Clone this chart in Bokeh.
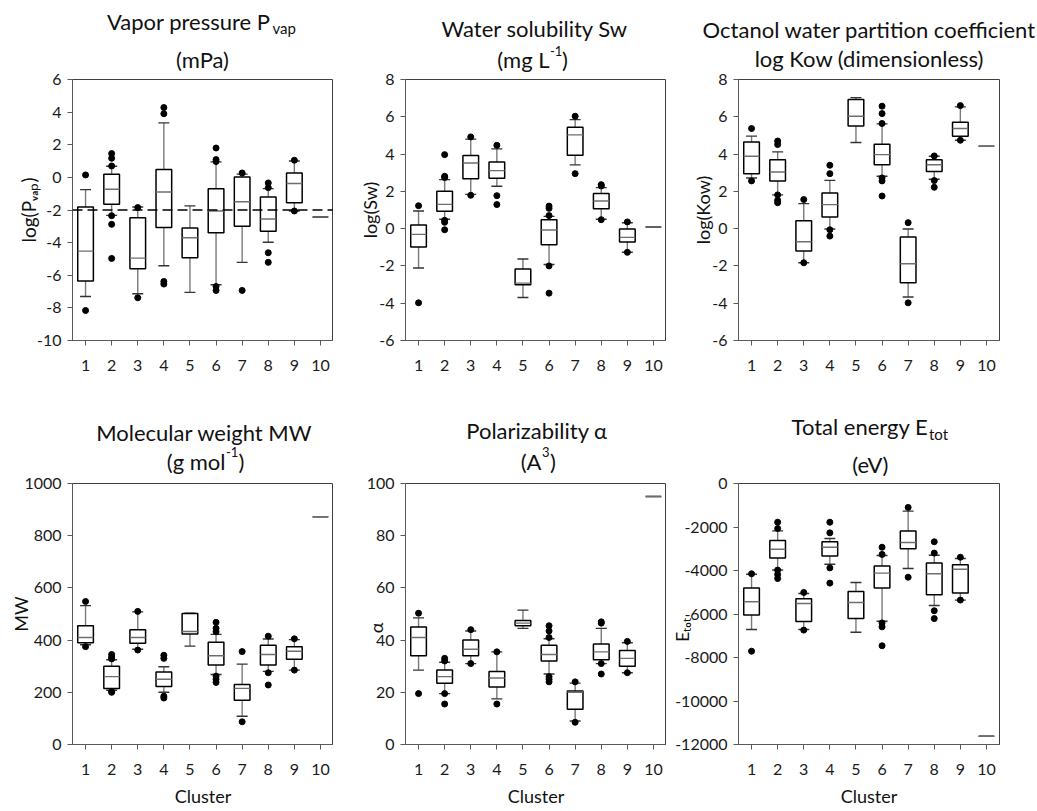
from bokeh.plotting import figure
from bokeh.layouts import column, row
from bokeh.models import Range1d, FixedTicker, Label, Span
from bokeh.embed import file_html
from bokeh.resources import INLINE

clusters = [1, 2, 3, 4, 5, 6, 7, 8, 9, 10]

# ---- Vapor pressure log(Pvap) ----
pvap_q3 = [-1.82, 0.19, -2.47, 0.48, -3.1, -0.69, 0.03, -1.2, 0.27, -2.43]
pvap_med = [-4.52, -0.73, -4.95, -0.9, -3.7, -2.06, -1.49, -2.55, -0.38, -2.43]
pvap_q1 = [-6.36, -1.65, -5.6, -3.08, -4.93, -3.39, -3.0, -3.31, -1.55, -2.43]
pvap_whi = [-0.75, 0.68, -1.82, 3.34, -1.75, 0.95, 0.2, -0.69, 1.0, None]
pvap_wlo = [-7.3, -2.33, -7.13, -5.42, -7.05, -6.58, -5.21, -3.98, -2.06, None]
pvap_out = [[0.15, -8.16], [1.46, 1.17, 0.7, -2.35, -2.88, -4.97], [-1.85, -7.38],
            [4.28, 3.9, -6.38, -6.54], [], [1.8, 1.09, 0.97, -6.69, -6.93],
            [0.27, -6.93], [-0.34, -0.63, -4.62, -5.21], [1.05, -2.06], []]
pvap_ref = -2

# ---- Water solubility log(Sw) ----
sw_q3 = [0.2, 2.0, 3.92, 3.58, -2.17, 0.48, 5.44, 1.88, -0.02, 0.09]
sw_med = [-0.31, 1.3, 3.52, 3.11, -2.92, -0.07, 5.03, 1.48, -0.47, 0.09]
sw_q1 = [-0.99, 0.93, 2.68, 2.7, -3.01, -0.86, 3.94, 1.07, -0.72, 0.09]
sw_whi = [0.95, 2.63, 4.8, 4.28, -1.63, 0.66, 5.85, 2.2, 0.32, None]
sw_wlo = [-2.11, 0.5, 1.84, 2.27, -3.69, -1.92, 3.42, 0.5, -1.27, None]
sw_out = [[1.23, -3.98], [3.97, 2.81, 2.74, 0.45, 0.34, -0.06], [4.92, 1.79],
          [4.47, 1.77, 1.29], [], [1.21, 1.09, 0.7, -2.0, -3.46], [6.03, 2.95],
          [2.36, 2.29, 0.48], [0.36, -1.27], []]

# ---- log Kow ----
kow_q3 = [4.65, 3.7, 0.43, 1.91, 6.93, 4.53, -0.45, 3.7, 5.71, 4.42]
kow_med = [3.88, 3.04, -0.7, 1.29, 6.03, 3.97, -1.88, 3.43, 5.37, 4.42]
kow_q1 = [2.95, 2.56, -1.2, 0.62, 5.5, 3.43, -2.9, 3.06, 4.96, 4.42]
kow_whi = [4.96, 4.12, 1.34, 2.59, 7.03, 5.62, -0.02, 3.88, 6.53, None]
kow_wlo = [2.72, 1.81, -1.83, -0.02, 4.62, 2.81, -3.67, 2.65, 4.74, None]
kow_out = [[5.37, 2.56], [4.7, 4.51, 1.81, 1.52, 1.39], [1.56, -1.83],
           [3.4, 2.95, -0.06, -0.4], [], [6.57, 6.17, 5.64, 2.72, 2.56, 1.75],
           [0.32, -3.98], [3.9, 2.58, 2.22], [6.6, 4.74], []]

# ---- Molecular weight MW ----
mw_q3 = [455, 300, 440, 278, 502, 392, 230, 380, 375, 873]
mw_med = [410, 260, 410, 250, 433, 340, 215, 345, 357, 873]
mw_q1 = [390, 215, 388, 222, 423, 305, 170, 305, 327, 873]
mw_whi = [532, 325, 508, 298, 503, 422, 308, 404, 402, None]
mw_wlo = [382, 208, 365, 200, 377, 268, 108, 280, 285, None]
mw_out = [[548, 375], [345, 335, 328, 203, 200], [510, 362], [342, 330, 185, 178], [],
          [468, 445, 432, 262, 250, 238], [356, 87], [415, 275, 228], [405, 285], []]

# ---- Polarizability alpha ----
al_q3 = [45, 28.5, 40, 28, 47.5, 38, 20.5, 38.5, 36, 95]
al_med = [41, 26, 36.5, 25.5, 46.5, 34.5, 20, 35.5, 33, 95]
al_q1 = [34, 23.5, 34, 22, 45.5, 32, 13.5, 32.5, 30, 95]
al_whi = [48.5, 31.5, 43.5, 35.5, 51.5, 40.5, 23.5, 44.5, 39, None]
al_wlo = [28.5, 19.5, 31, 17.5, 44.5, 27, 9, 31, 27.5, None]
al_out = [[50.3, 19.5], [33, 32, 19.5, 15.5], [44, 31], [35.5, 15.5], [],
          [45.5, 43.5, 41, 26, 25, 24], [24, 8.5], [47, 46.5, 31, 27], [39.5, 27.5], []]

# ---- Total energy Etot ----
et_q3 = [-4800, -2620, -5300, -2680, -4970, -3790, -2180, -3660, -3740, -11620]
et_med = [-5440, -3020, -5520, -2930, -5470, -4120, -2710, -4150, -3940, -11620]
et_q1 = [-6050, -3430, -6340, -3330, -6210, -4800, -3000, -5120, -5030, -11620]
et_whi = [-4170, -2180, -5060, -2530, -4550, -3310, -1270, -3300, -3450, None]
et_wlo = [-6710, -3980, -6710, -3710, -6840, -6330, -3910, -5610, -5360, None]
et_out = [[-4150, -7710], [-1780, -2070, -3980, -4180, -4370], [-5010, -6740],
          [-1780, -2270, -3880, -4580], [], [-2930, -3260, -6410, -6590, -7460],
          [-1100, -4310], [-2680, -3200, -5850, -6210], [-3390, -5360], []]

FONT = "Lato"
BOX_W = 0.6
CAP_W = 0.42
COL_W = [333, 333, 371]
TS = 22   # title font size
SS = 15   # subscript size
PS = 13   # superscript size
NB = "\u00a0"


def lab(p, x, y, text, size=TS, align="left", baseline="alphabetic"):
    p.add_layout(Label(x=x, y=y, x_units="screen", y_units="screen", text=text,
                       text_font=FONT, text_font_size=f"{size}px", text_color="#111111",
                       text_align=align, text_baseline=baseline))


def title_fig(width):
    t = figure(frame_width=width, frame_height=72, x_range=Range1d(0, 1), y_range=Range1d(0, 1),
               output_backend="svg", toolbar_location=None,
               x_axis_location=None, y_axis_location=None,
               min_border_left=0, min_border_right=0, min_border_top=0, min_border_bottom=0)
    t.xgrid.visible = False
    t.ygrid.visible = False
    t.outline_line_color = None
    return t


def panel(yr, ystep, q1, med, q3, wlo, whi, out, bottom_border, right_border,
          ylabel, ylabel_size, ylabel_standoff, xlabel=None):
    p = figure(frame_width=261, frame_height=261,
               x_range=Range1d(0.5, 10.5), y_range=Range1d(*yr),
               output_backend="svg", toolbar_location=None,
               min_border_left=72, min_border_right=right_border,
               min_border_top=7, min_border_bottom=bottom_border)
    p.xgrid.visible = False
    p.ygrid.visible = False
    p.outline_line_color = "#404040"
    p.outline_line_width = 1
    for ax in (p.xaxis[0], p.yaxis[0]):
        ax.axis_line_color = "#595959"
        ax.major_tick_line_color = "#595959"
        ax.major_tick_out = 5
        ax.major_tick_in = 0
        ax.minor_tick_line_color = None
        ax.major_label_text_font = FONT
        ax.major_label_text_font_size = "16px"
        ax.major_label_text_color = "#1a1a1a"
        ax.axis_label_text_font = FONT
        ax.axis_label_text_font_style = "normal"
        ax.axis_label_text_color = "#111111"
    p.xaxis.ticker = FixedTicker(ticks=clusters)
    p.xaxis.major_label_standoff = 14
    yt = list(range(yr[0], yr[1] + 1, ystep))
    p.yaxis.ticker = FixedTicker(ticks=yt)
    p.yaxis.major_label_overrides = {t: str(t) for t in yt}
    p.yaxis.major_label_standoff = 6
    p.yaxis.axis_label = ylabel
    p.yaxis.axis_label_text_font_size = f"{ylabel_size}px"
    p.yaxis.axis_label_standoff = ylabel_standoff
    if xlabel:
        p.xaxis.axis_label = xlabel
        p.xaxis.axis_label_text_font_size = "18px"
        p.xaxis.axis_label_standoff = 7

    # whiskers
    wx, wy0, wy1, cx0, cx1, cy = [], [], [], [], [], []
    for c, lo, a, b, hi in zip(clusters, wlo, q1, q3, whi):
        if lo is None:
            continue
        wx += [c, c]
        wy0 += [b, a]
        wy1 += [hi, lo]
        cx0 += [c - CAP_W / 2] * 2
        cx1 += [c + CAP_W / 2] * 2
        cy += [hi, lo]
    p.segment(x0=wx, y0=wy0, x1=wx, y1=wy1, line_color="#7a7a7a", line_width=1.4)
    p.segment(x0=cx0, y0=cy, x1=cx1, y1=cy, line_color="#333333", line_width=1.4)
    # boxes
    p.vbar(x=clusters, width=BOX_W, bottom=q1, top=q3, fill_color="white",
           line_color="black", line_width=1.5)
    # medians
    p.segment(x0=[c - BOX_W / 2 for c in clusters], y0=med,
              x1=[c + BOX_W / 2 for c in clusters], y1=med,
              line_color="#6e6e6e", line_width=1.4)
    # outliers
    ox, oy = [], []
    for c, vals in zip(clusters, out):
        ox += [c] * len(vals)
        oy += vals
    p.scatter(x=ox, y=oy, size=6, color="black")
    return p


# ---------- top row ----------
p1 = panel((-10, 6), 2, pvap_q1, pvap_med, pvap_q3, pvap_wlo, pvap_whi, pvap_out, 64, 0,
           "log(Pᵥₐₚ)", 19, -6)
p1.add_layout(Span(location=pvap_ref, dimension="width", line_color="black",
                   line_dash="10 5", line_width=1.3))
t1 = title_fig(COL_W[0])
lab(t1, 270, 51.2, "Vapor pressure P", align="right")
lab(t1, 272, 44.5, "vap", size=SS)
lab(t1, 202, 12.8, "(mPa)", align="center")

p2 = panel((-6, 8), 2, sw_q1, sw_med, sw_q3, sw_wlo, sw_whi, sw_out, 64, 0,
           "log(Sw)", 18, -5)
t2 = title_fig(COL_W[1])
lab(t2, 201.3, 44.5, "Water solubility Sw", align="center")
lab(t2, 216, 12.8, "(mg L", align="right")
lab(t2, 216.5, 21.8, "-1", size=PS)
lab(t2, 228.5, 12.8, ")")

p3 = panel((-6, 8), 2, kow_q1, kow_med, kow_q3, kow_wlo, kow_whi, kow_out, 64, 38,
           "log(Kow)", 18, -5)
t3 = title_fig(COL_W[2])
lab(t3, 202.8, 43.2, "Octanol water partition coefficient", align="center")
lab(t3, 202.8, 14.5, "log Kow (dimensionless)", align="center")

# ---------- bottom row ----------
p4 = panel((0, 1000), 200, mw_q1, mw_med, mw_q3, mw_wlo, mw_whi, mw_out, 67, 0,
           "MW", 18, -11, "Cluster")
t4 = title_fig(COL_W[0])
lab(t4, 203.8, 44.5, "Molecular weight MW", align="center")
lab(t4, 225, 15.2, "(g mol", align="right")
lab(t4, 225.5, 24.2, "-1", size=PS)
lab(t4, 238, 15.2, ")")

p5 = panel((0, 100), 20, al_q1, al_med, al_q3, al_wlo, al_whi, al_out, 67, 0,
           "α" + NB * 6, 18, -23, "Cluster")
t5 = title_fig(COL_W[1])
lab(t5, 203.5, 46.2, "Polarizability α", align="center")
lab(t5, 208, 15.5, "(A", align="right")
lab(t5, 208.5, 24.5, "3", size=PS)
lab(t5, 216.5, 15.5, ")")

p6 = panel((-12000, 0), 2000, et_q1, et_med, et_q3, et_wlo, et_whi, et_out, 67, 38,
           "Eₜₒₜ" + NB * 7, 18, -21, "Cluster")
t6 = title_fig(COL_W[2])
lab(t6, 261.7, 50.2, "Total energy E", align="right")
lab(t6, 262.5, 42.8, "tot", size=SS)
lab(t6, 203.8, 11.8, "(eV)", align="center")

layout = column(row(t1, t2, t3), row(p1, p2, p3), row(t4, t5, t6), row(p4, p5, p6))

open("out.html", "w").write(file_html(layout, INLINE))
